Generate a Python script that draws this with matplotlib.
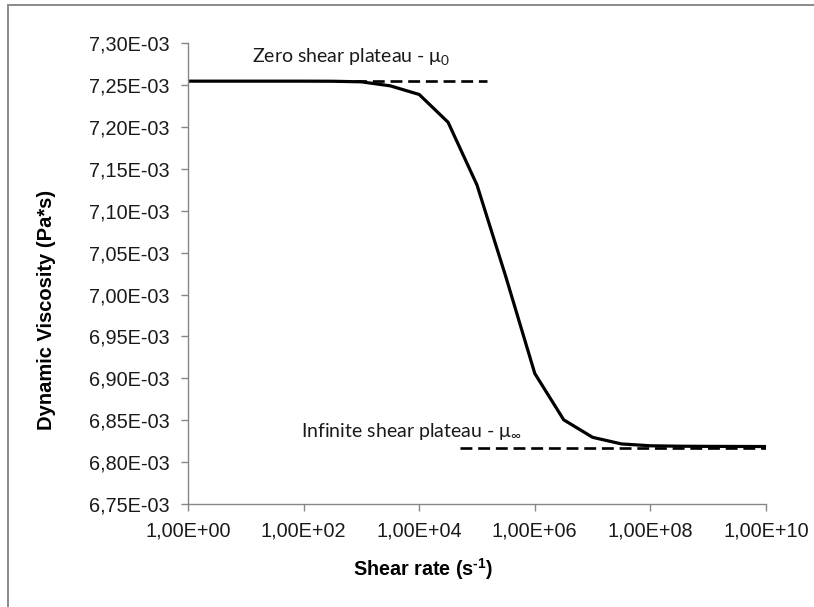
import matplotlib
matplotlib.use("Agg")
import matplotlib.pyplot as plt
from matplotlib.patches import Rectangle
from matplotlib.ticker import FixedLocator

# Shear rate (s^-1) sampled every half decade and the resulting viscosity (Pa*s)
shear_rate = [1e0, 10**0.5, 1e1, 10**1.5, 1e2, 10**2.5, 1e3, 10**3.5, 1e4, 10**4.5,
              1e5, 10**5.5, 1e6, 10**6.5, 1e7, 10**7.5, 1e8, 10**8.5, 1e9, 10**9.5, 1e10]
viscosity = [7.2548e-3, 7.2548e-3, 7.2548e-3, 7.2548e-3, 7.2548e-3, 7.2547e-3, 7.2540e-3,
             7.2492e-3, 7.2389e-3, 7.2057e-3, 7.1308e-3, 7.0210e-3, 6.9058e-3, 6.8505e-3,
             6.8296e-3, 6.8217e-3, 6.8195e-3, 6.8190e-3, 6.8188e-3, 6.8187e-3, 6.8186e-3]

# Plateau reference lines
mu0_value = 7.2554e-3
mu0_span = [10**2.58, 10**5.17]
muinf_value = 6.8167e-3
muinf_span = [10**4.71, 1e10]

x_ticks = [1e0, 1e2, 1e4, 1e6, 1e8, 1e10]
x_tick_labels = ["1,00E+00", "1,00E+02", "1,00E+04", "1,00E+06", "1,00E+08", "1,00E+10"]
y_ticks = [6.75e-3, 6.80e-3, 6.85e-3, 6.90e-3, 6.95e-3, 7.00e-3,
           7.05e-3, 7.10e-3, 7.15e-3, 7.20e-3, 7.25e-3, 7.30e-3]
y_tick_labels = ["6,75E-03", "6,80E-03", "6,85E-03", "6,90E-03", "6,95E-03", "7,00E-03",
                 "7,05E-03", "7,10E-03", "7,15E-03", "7,20E-03", "7,25E-03", "7,30E-03"]

plt.rcParams["mathtext.fontset"] = "custom"
plt.rcParams["mathtext.rm"] = "Lato"
plt.rcParams["mathtext.it"] = "Lato"
plt.rcParams["mathtext.bf"] = "Liberation Sans:bold"

W, H = 814, 607
fig = plt.figure(figsize=(W / 100, H / 100), dpi=100)
fig.patch.set_facecolor("white")

# thin grey frame around the chart area
fig.add_artist(Rectangle((8 / W, -0.05), 1.1, (H - 4.5) / H + 0.05,
                         transform=fig.transFigure, fill=False,
                         edgecolor="#8a8a8a", linewidth=1.4))

ax = fig.add_axes([188 / W, (H - 504) / H, (766 - 188) / W, (504 - 43.3) / H])
ax.set_xscale("log")
ax.set_xlim(1e0, 1e10)
ax.set_ylim(6.75e-3, 7.30e-3)

ax.plot(shear_rate, viscosity, color="black", linewidth=2.3, solid_joinstyle="round")
ax.plot(mu0_span, [mu0_value, mu0_value], color="black", linewidth=1.9,
        linestyle=(0, (4.5, 2.2)))
ax.plot(muinf_span, [muinf_value, muinf_value], color="black", linewidth=1.9,
        linestyle=(0, (4.5, 2.2)))

for side in ("top", "right"):
    ax.spines[side].set_visible(False)
for side in ("left", "bottom"):
    ax.spines[side].set_color("#868686")
    ax.spines[side].set_linewidth(1.0)

ax.xaxis.set_major_locator(FixedLocator(x_ticks))
ax.xaxis.set_minor_locator(FixedLocator([]))
ax.set_xticklabels(x_tick_labels)
ax.yaxis.set_major_locator(FixedLocator(y_ticks))
ax.set_yticklabels(y_tick_labels)

ax.tick_params(axis="both", which="major", direction="out", color="#868686",
               width=1.0, labelcolor="#1a1a1a", labelsize=14.3)
ax.tick_params(axis="y", length=5, pad=8)
ax.tick_params(axis="x", length=5, pad=7.5)
for lbl in ax.get_xticklabels() + ax.get_yticklabels():
    lbl.set_family("Liberation Sans")

ax.set_xlabel("Shear rate (s$^{\\mathbf{\u2010}\\mathbf{1}}$)", family="Liberation Sans",
              fontweight="bold", fontsize=14.2)
ax.xaxis.set_label_coords((423 - 188) / (766 - 188), -(569 - 504) / (504 - 43.3))
ax.xaxis.label.set_va("center")
ax.set_ylabel("Dynamic Viscosity (Pa*s)", family="Liberation Sans",
              fontweight="bold", fontsize=14.5)
ax.yaxis.set_label_coords(-(188 - 47) / (766 - 188), (504 - 310) / (504 - 43.3))
ax.yaxis.label.set_va("center")

ax.text(10**1.1, 7.2772e-3,
        "Zero shear plateau - μ$_0$", family="Lato", fontsize=14,
        ha="left", va="baseline", color="#1a1a1a")
ax.text(10**1.95, 6.8301e-3,
        "Infinite shear plateau - μ$_{\\infty}$", family="Lato", fontsize=14,
        ha="left", va="baseline", color="#1a1a1a")

fig.savefig("out.png", dpi=100, facecolor="white")
